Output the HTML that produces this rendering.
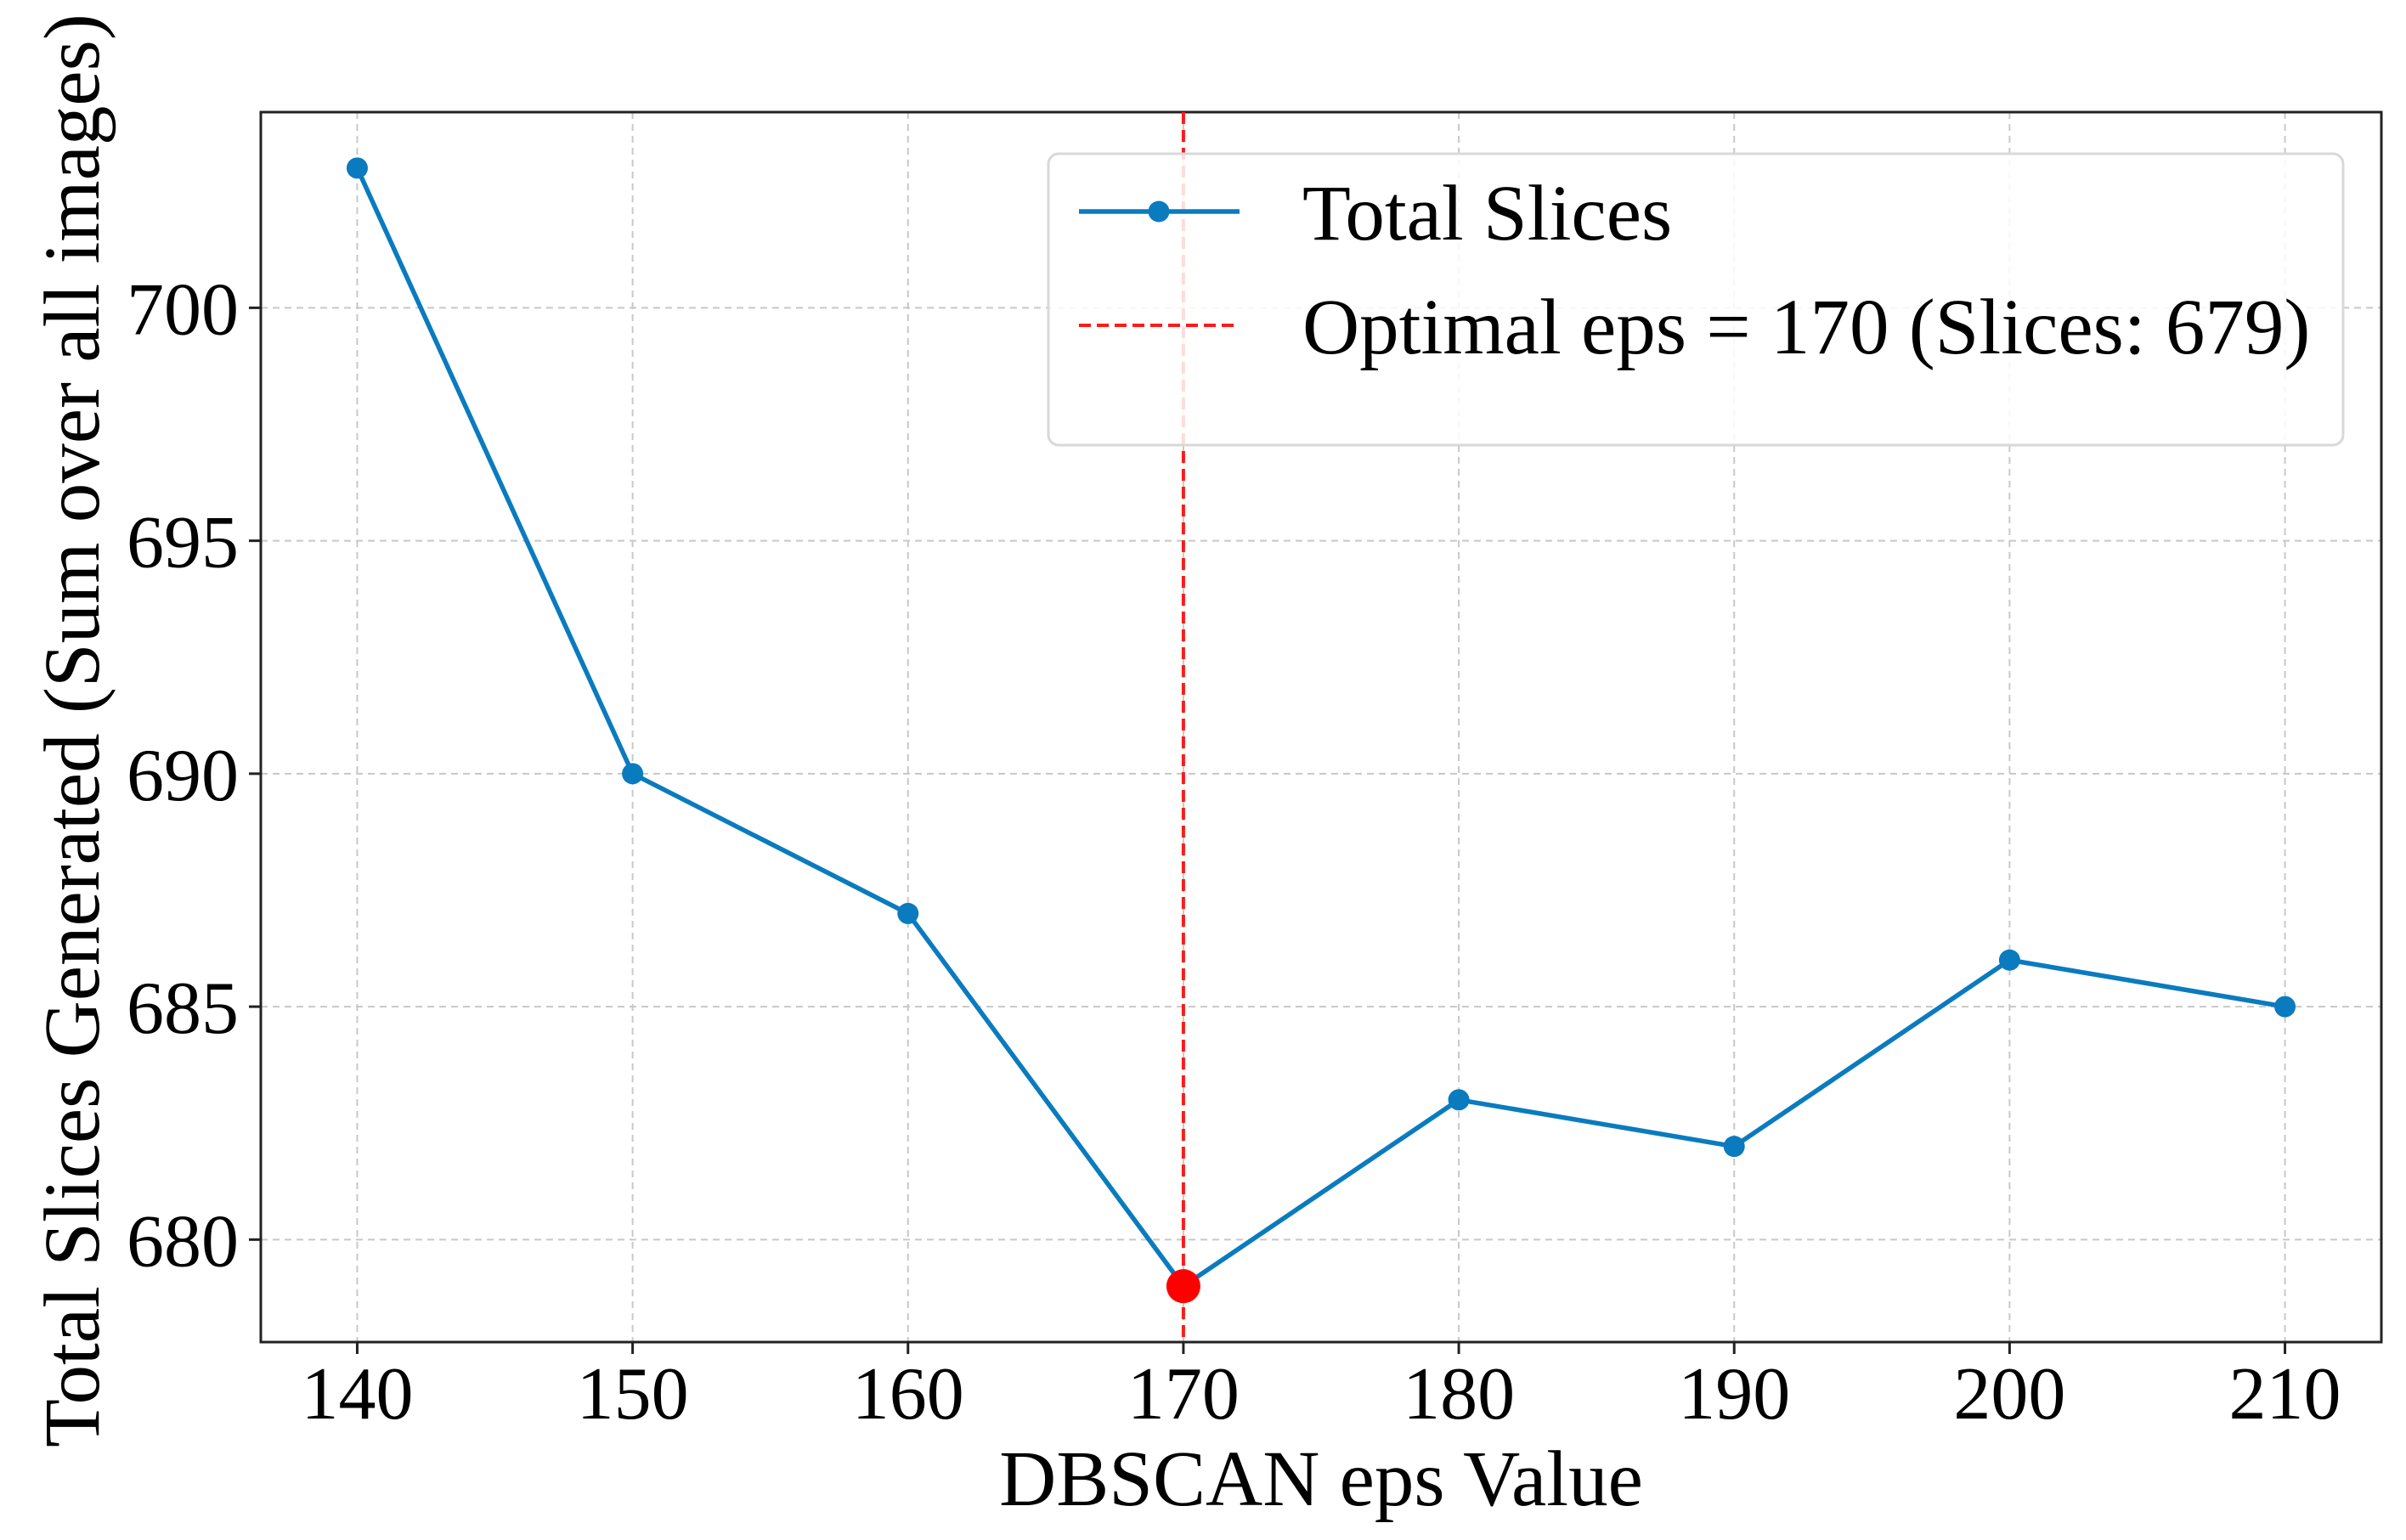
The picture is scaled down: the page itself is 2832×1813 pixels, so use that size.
<!DOCTYPE html>
<html><head><meta charset="utf-8"><style>
html,body{margin:0;padding:0;background:#fff}
svg{display:block}
text{font-family:"Liberation Serif",serif;fill:#000}
</style></head><body>
<svg id="chart" width="2832" height="1813" viewBox="0 0 2832 1813" xmlns="http://www.w3.org/2000/svg">
<g id="grid"></g>
<g id="axes"></g>
<g id="series"></g>
<g id="legend"></g>
</svg>
<script>
const epsValues = [140, 150, 160, 170, 180, 190, 200, 210];
const totalSlices = [703, 690, 687, 679, 683, 682, 686, 685];
const xTicks = [140, 150, 160, 170, 180, 190, 200, 210];
const yTicks = [680, 685, 690, 695, 700];
const optimalEps = 170;
const optimalSlices = 679;

const NS = 'http://www.w3.org/2000/svg';
const L = 307, R = 2803, T = 132, B = 1580;
const xMin = 136.5, xMax = 213.5, yMin = 677.8, yMax = 704.2;
const xs = v => L + (v - xMin) / (xMax - xMin) * (R - L);
const ys = v => B - (v - yMin) / (yMax - yMin) * (B - T);
function mk(tag, attrs, parent, txt) {
  const e = document.createElementNS(NS, tag);
  for (const k in attrs) e.setAttribute(k, attrs[k]);
  if (txt !== undefined) e.textContent = txt;
  parent.appendChild(e);
  return e;
}
const grid = document.getElementById('grid');
const axes = document.getElementById('axes');
const series = document.getElementById('series');
const legend = document.getElementById('legend');

xTicks.forEach(v => {
  const g = mk('line', {x1: xs(v), x2: xs(v), y1: T, y2: B, stroke: '#c8c8c8', 'stroke-width': 2, 'stroke-dasharray': '8,6'}, grid);
  
  
  const t = mk('line', {x1: xs(v), x2: xs(v), y1: B, y2: B + 14, stroke: '#222', 'stroke-width': 3}, axes);
  
  
  const l = mk('text', {x: xs(v), y: 1670, 'font-size': 88, 'text-anchor': 'middle'}, axes, String(v));
  
  
});
yTicks.forEach(v => {
  const g = mk('line', {x1: L, x2: R, y1: ys(v), y2: ys(v), stroke: '#c8c8c8', 'stroke-width': 2, 'stroke-dasharray': '8,6'}, grid);
  
  
  const t = mk('line', {x1: L - 14, x2: L, y1: ys(v), y2: ys(v), stroke: '#222', 'stroke-width': 3}, axes);
  
  
  const l = mk('text', {x: L - 26, y: ys(v) + 31, 'font-size': 88, 'text-anchor': 'end'}, axes, String(v));
  
  
});
const frame = mk('rect', {x: L, y: T, width: R - L, height: B - T, fill: 'none', stroke: '#222', 'stroke-width': 3}, axes);


const xl = mk('text', {x: (L + R) / 2, y: 1772, 'font-size': 93, 'text-anchor': 'middle'}, axes, 'DBSCAN eps Value');


const yl = mk('text', {x: 0, y: 0, 'font-size': 93, 'text-anchor': 'middle', transform: 'translate(116,' + ((T + B) / 2 + 4) + ') rotate(-90)'}, axes, 'Total Slices Generated (Sum over all images)');



const pts = epsValues.map((v, i) => xs(v) + ',' + ys(totalSlices[i])).join(' ');
const pl = mk('polyline', {points: pts, fill: 'none', stroke: '#0a7bbf', 'stroke-width': 5.5, 'stroke-linejoin': 'round'}, series);


epsValues.forEach((v, i) => {
  const c = mk('circle', {cx: xs(v), cy: ys(totalSlices[i]), r: 12.5, fill: '#0a7bbf'}, series);
  
  
});
const vl = mk('line', {x1: xs(optimalEps), x2: xs(optimalEps), y1: T, y2: B, stroke: '#ff1a1a', 'stroke-width': 4, 'stroke-dasharray': '14,7'}, series);


const om = mk('circle', {cx: xs(optimalEps), cy: ys(optimalSlices), r: 20, fill: '#ff0000'}, series);



const box = mk('rect', {x: 1234, y: 181, width: 1524, height: 343, rx: 12, fill: '#fff', 'fill-opacity': 0.85, stroke: '#d8d8d8', 'stroke-width': 3}, legend);


const l1 = mk('line', {x1: 1270, x2: 1459, y1: 249, y2: 249, stroke: '#0a7bbf', 'stroke-width': 5.5}, legend);


const m1 = mk('circle', {cx: 1364, cy: 249, r: 12.5, fill: '#0a7bbf'}, legend);


const t1 = mk('text', {x: 1533, y: 282, 'font-size': 93}, legend, 'Total Slices');


const l2 = mk('line', {x1: 1270, x2: 1459, y1: 383, y2: 383, stroke: '#ff1a1a', 'stroke-width': 4, 'stroke-dasharray': '14,7'}, legend);


const t2 = mk('text', {x: 1533, y: 416, 'font-size': 93}, legend, 'Optimal eps = ' + optimalEps + ' (Slices: ' + optimalSlices + ')');


</script>
</body></html>
